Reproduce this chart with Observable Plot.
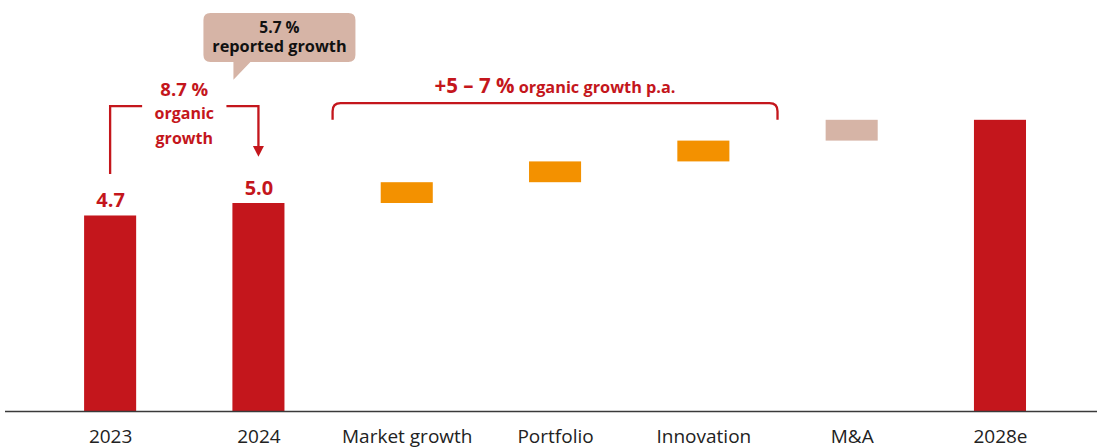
<!DOCTYPE html>
<html>
<head>
<meta charset="utf-8">
<script src="https://cdn.jsdelivr.net/npm/d3@7"></script>
<script src="https://cdn.jsdelivr.net/npm/@observablehq/plot@0.6"></script>
<style>
  html, body { margin: 0; padding: 0; background: #fff; }
  #chart { width: 1097px; height: 448px; overflow: hidden; }
</style>
</head>
<body>
<div id="chart"></div>
<script>
// ---- data ----
const categories = ["2023", "2024", "Market growth", "Portfolio", "Innovation", "M&A", "2028e"];
const barStarts = [0, 0, 5.0, 5.5, 6.0, 6.5, 0];
const barEnds = [4.7, 5.0, 5.5, 6.0, 6.5, 7.0, 7.0];
const barKinds = ["actual", "actual", "organic", "organic", "organic", "mna", "actual"];
const valueLabels = ["4.7", "5.0", null, null, null, null, null];
const kindColors = { actual: "#c4161c", organic: "#f39100", mna: "#d6b4a6" };

const organicGrowthText = ["8.7 %", "organic", "growth"];
const reportedGrowthText = ["5.7 %", "reported growth"];
const guidanceText = ["+5 – 7 %", " organic growth p.a."];

// annotation levels, in data units of the y scale
const organicLevels = { number: 7.73, line1: 7.15, line2: 6.56, bracket: 7.33, legBottom: 5.70, arrowBase: 6.37, arrowTip: 6.11 };
const calloutLevels = { top: 9.57, bottom: 8.39, tip: 7.96, line1: 9.23, line2: 8.76 };
const guidanceLevels = { text: 7.82, bracket: 7.40, legBottom: 7.0 };

const RED = kindColors.actual;
const FONT = "'Open Sans', 'Noto Sans', sans-serif";

const rows = categories.map((c, i) => ({
  category: c, start: barStarts[i], end: barEnds[i], kind: barKinds[i], label: valueLabels[i]
}));

const plot = Plot.plot({
  width: 1097,
  height: 448,
  marginTop: 0,
  marginBottom: 37,
  marginLeft: 5,
  marginRight: 0,
  style: { fontFamily: FONT, fontSize: "19px", color: "#222", background: "#fff", overflow: "visible" },
  x: { domain: categories, paddingInner: 0.649, paddingOuter: 0.506, align: 0.527, round: false,
       label: null, tickSize: 0, tickPadding: 18 },
  y: { domain: [0, 9.88], axis: null },
  color: { domain: Object.keys(kindColors), range: Object.values(kindColors) },
  marks: [
    Plot.barY(rows, { x: "category", y1: "start", y2: "end", fill: "kind" }),
    Plot.ruleY([0], { stroke: "#3a3a3a", strokeWidth: 1.4 }),
    Plot.text(rows.filter(d => d.label), {
      x: "category", y: "end", text: "label", dy: -15,
      fill: RED, fontSize: 20, fontWeight: "bold"
    })
  ]
});

document.getElementById("chart").appendChild(plot);

// ---- annotations drawn with the plot's own scales ----
const sx = plot.scale("x"), sy = plot.scale("y");
const bw = sx.bandwidth;
const cx = c => sx.apply(c) + bw / 2;
const step = cx(categories[1]) - cx(categories[0]);
const Y = v => sy.apply(v);
const svg = d3.select(plot.tagName.toLowerCase() === "svg" ? plot : plot.querySelector("svg"));
const g = svg.append("g").attr("font-family", FONT).attr("font-weight", "bold");

// organic growth bracket 2023 -> 2024
const xa = cx(categories[0]), xb = cx(categories[1]), xm = (xa + xb) / 2;
g.append("path")
  .attr("d", `M${xa},${Y(organicLevels.legBottom)}V${Y(organicLevels.bracket)}H${xa + 32}` +
             `M${xb - 32},${Y(organicLevels.bracket)}H${xb}V${Y(organicLevels.arrowBase) + 1}`)
  .attr("fill", "none").attr("stroke", RED).attr("stroke-width", 2.3);
g.append("path")
  .attr("d", `M${xb - 5.5},${Y(organicLevels.arrowBase)}L${xb + 5.5},${Y(organicLevels.arrowBase)}L${xb},${Y(organicLevels.arrowTip)}Z`)
  .attr("fill", RED);
g.append("text").attr("x", xm).attr("y", Y(organicLevels.number)).attr("dy", "0.36em")
  .attr("text-anchor", "middle").attr("fill", RED).attr("font-size", 18.5).text(organicGrowthText[0]);
g.append("text").attr("x", xm).attr("y", Y(organicLevels.line1)).attr("dy", "0.36em")
  .attr("text-anchor", "middle").attr("fill", RED).attr("font-size", 16).text(organicGrowthText[1]);
g.append("text").attr("x", xm).attr("y", Y(organicLevels.line2)).attr("dy", "0.36em")
  .attr("text-anchor", "middle").attr("fill", RED).attr("font-size", 16).text(organicGrowthText[2]);

// reported growth callout above 2024
const bx0 = xb - 55, bx1 = xb + 97, by0 = Y(calloutLevels.top), by1 = Y(calloutLevels.bottom), r = 7;
g.append("path")
  .attr("d", `M${bx0 + r},${by0}H${bx1 - r}Q${bx1},${by0} ${bx1},${by0 + r}V${by1 - r}Q${bx1},${by1} ${bx1 - r},${by1}` +
             `H${xb - 8}L${xb - 25},${Y(calloutLevels.tip)}V${by1}H${bx0 + r}Q${bx0},${by1} ${bx0},${by1 - r}V${by0 + r}Q${bx0},${by0} ${bx0 + r},${by0}Z`)
  .attr("fill", kindColors.mna);
const bxm = (bx0 + bx1) / 2;
g.append("text").attr("x", bxm).attr("y", Y(calloutLevels.line1)).attr("dy", "0.36em")
  .attr("text-anchor", "middle").attr("fill", "#111").attr("font-size", 15.5).text(reportedGrowthText[0]);
g.append("text").attr("x", bxm).attr("y", Y(calloutLevels.line2)).attr("dy", "0.36em")
  .attr("text-anchor", "middle").attr("fill", "#111").attr("font-size", 16.3).text(reportedGrowthText[1]);

// guidance bracket over the organic drivers
const gx0 = cx(categories[2]) - step / 2, gx1 = cx(categories[4]) + step / 2;
const gy = Y(guidanceLevels.bracket), gyb = Y(guidanceLevels.legBottom), rr = 8;
g.append("path")
  .attr("d", `M${gx0},${gyb}V${gy + rr}Q${gx0},${gy} ${gx0 + rr},${gy}H${gx1 - rr}Q${gx1},${gy} ${gx1},${gy + rr}V${gyb}`)
  .attr("fill", "none").attr("stroke", RED).attr("stroke-width", 2.3);
const gt = g.append("text").attr("x", (gx0 + gx1) / 2).attr("y", Y(guidanceLevels.text)).attr("dy", "0.36em")
  .attr("text-anchor", "middle").attr("fill", RED);
gt.append("tspan").attr("font-size", 20.5).text(guidanceText[0]);
gt.append("tspan").attr("font-size", 16.3).text(guidanceText[1]);
</script>
</body>
</html>
